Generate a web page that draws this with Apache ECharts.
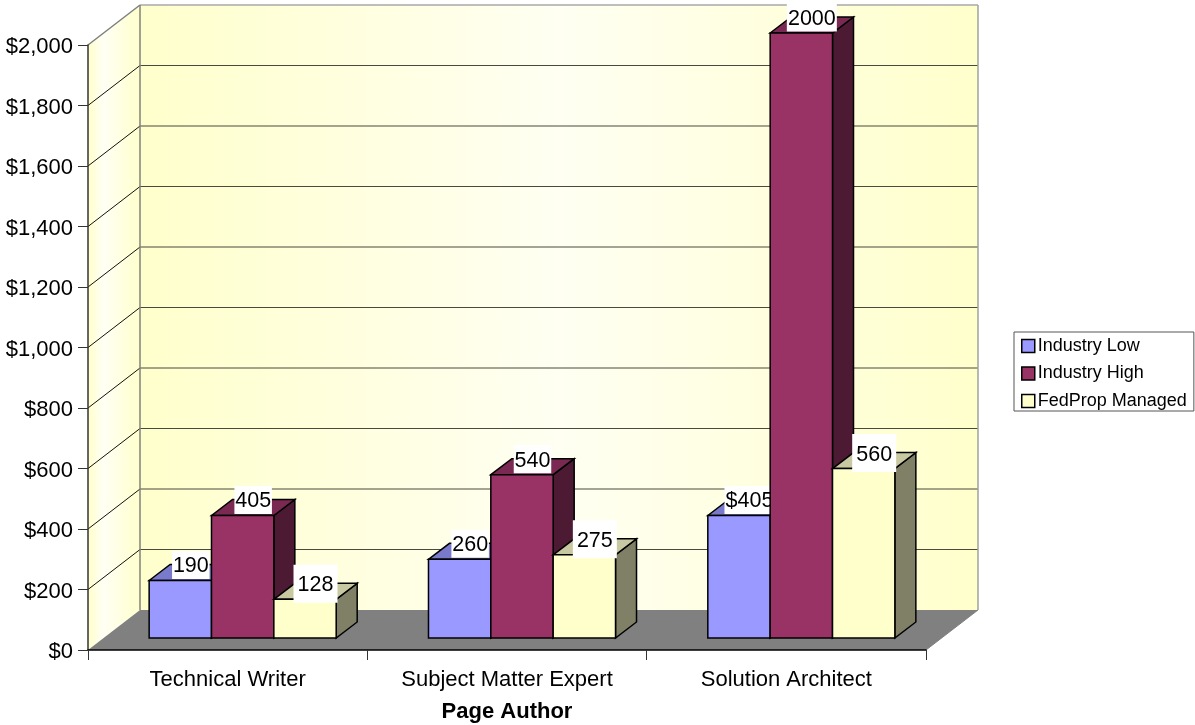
<!DOCTYPE html>
<html>
<head>
<meta charset="utf-8">
<title>Page Author</title>
<script src="https://cdn.jsdelivr.net/npm/echarts@6/dist/echarts.min.js"></script>
<style>
html, body { margin: 0; padding: 0; background: #fff; }
#chart { width: 1195px; height: 725px; }
</style>
</head>
<body>
<div id="chart"></div>
<script>
var categories = ['Technical Writer', 'Subject Matter Expert', 'Solution Architect'];
var yTicks = [0, 200, 400, 600, 800, 1000, 1200, 1400, 1600, 1800, 2000];
var industryLow = [190, 260, 405];
var industryHigh = [405, 540, 2000];
var fedPropManaged = [128, 275, 560];
var lowLabels = ['190', '260', '$405'];
var highLabels = ['405', '540', '2000'];
var fedPropLabels = ['128', '275', '560'];

var FONT = '"Liberation Sans", Arial, sans-serif';
// wall depth and bar depth of the fake 3d
var wallDX = 52, wallDY = 40;
var shiftX = 15, shiftY = 12;
var barDX = 21, barDY = 16;
var barRatio = 0.2232;

var myChart = echarts.init(document.getElementById('chart'));

function poly(points, fill, stroke, lw) {
    return {
        type: 'polygon',
        shape: { points: points },
        style: { fill: fill, stroke: stroke || null, lineWidth: lw || 0 }
    };
}

function line(x1, y1, x2, y2, color, lw) {
    return {
        type: 'line',
        shape: { x1: x1, y1: y1, x2: x2, y2: y2 },
        style: { stroke: color, lineWidth: lw, fill: null }
    };
}

function renderWalls(params, api) {
    if (params.dataIndex !== 0) return null;
    var p0 = api.coord([0, 0]);
    var cw = api.size([1, 0])[0];
    var x0 = p0[0] - cw / 2, x1 = x0 + cw * categories.length;
    var y0 = p0[1], yTop = api.coord([0, yTicks[yTicks.length - 1]])[1];
    var kids = [];
    // side wall
    kids.push(poly([[x0, y0], [x0 + wallDX, y0 - wallDY], [x0 + wallDX, yTop - wallDY], [x0, yTop]], {
        type: 'linear', x: 0, y: 0, x2: 1, y2: 0,
        colorStops: [
            { offset: 0, color: '#ffffcc' },
            { offset: 0.3, color: '#fffff4' },
            { offset: 1, color: '#ffffcc' }
        ]
    }));
    // back wall
    kids.push(poly([[x0 + wallDX, y0 - wallDY], [x1 + wallDX, y0 - wallDY], [x1 + wallDX, yTop - wallDY], [x0 + wallDX, yTop - wallDY]], {
        type: 'linear', x: 0, y: 0, x2: 1, y2: 0,
        colorStops: [
            { offset: 0, color: '#ffffcc' },
            { offset: 0.5, color: '#fffff2' },
            { offset: 1, color: '#ffffcc' }
        ]
    }));
    // floor
    kids.push(poly([[x0, y0], [x1, y0], [x1 + wallDX, y0 - wallDY], [x0 + wallDX, y0 - wallDY]], '#808080'));
    yTicks.forEach(function (t) {
        if (t === 0 || t === yTicks[yTicks.length - 1]) return;
        var y = api.coord([0, t])[1];
        kids.push(line(x0, y, x0 + wallDX, y - wallDY, '#111', 1));
        kids.push(line(x0 + wallDX, y - wallDY, x1 + wallDX, y - wallDY, '#4a4a3c', 1.2));
    });
    // wall outline
    kids.push(line(x0, yTop, x0 + wallDX, yTop - wallDY, '#808080', 1.5));
    kids.push(line(x0 + wallDX, yTop - wallDY, x1 + wallDX, yTop - wallDY, '#a8a8a8', 1.5));
    kids.push(line(x0 + wallDX, yTop - wallDY, x0 + wallDX, y0 - wallDY, '#808080', 1.5));
    kids.push(line(x1 + wallDX, yTop - wallDY, x1 + wallDX, y0 - wallDY, '#a0a0a0', 1.5));
    kids.push(line(x1, y0, x1 + wallDX, y0 - wallDY, '#808080', 1));
    return { type: 'group', children: kids };
}

// slot: 0,1,2 position inside the category
function makeRender(slot, labels, front, top, side, boxH) {
    return function (params, api) {
        var cat = api.value(0);
        var base = api.coord([cat, 0]);
        var head = api.coord([cat, api.value(1)]);
        var w = api.size([1, 0])[0] * barRatio;
        var left = base[0] + shiftX - 1.5 * w + slot * w;
        var right = left + w;
        var bottom = base[1] - shiftY;
        var topY = head[1] - shiftY;
        var kids = [
            poly([[right, topY], [right + barDX, topY - barDY], [right + barDX, bottom - barDY], [right, bottom]], side, '#000', 1.5),
            poly([[left, topY], [left + barDX, topY - barDY], [right + barDX, topY - barDY], [right, topY]], top, '#000', 1.5),
            poly([[left, topY], [right, topY], [right, bottom], [left, bottom]], front, '#000', 1.5)
        ];
        var txt = labels[params.dataIndex];
        var cx = (left + right) / 2 + 10.5;
        var cy = topY - 15.5;
        var boxW = boxH > 30 ? 44 : Math.max(37, txt.length * 12.5);
        kids.push({
            type: 'rect',
            shape: { x: cx - boxW / 2, y: cy - boxH / 2, width: boxW, height: boxH },
            style: { fill: '#fff' }
        });
        kids.push({
            type: 'text',
            style: {
                text: txt, x: cx, y: cy + 1.5, align: 'center', verticalAlign: 'middle',
                fill: '#000', font: '21.5px ' + FONT
            }
        });
        return { type: 'group', children: kids };
    };
}

function pairs(values) {
    return values.map(function (v, i) { return [i, v]; });
}

myChart.setOption({
    animation: false,
    backgroundColor: '#fff',
    grid: { left: 88, right: 269, top: 45, bottom: 75, outerBoundsMode: 'none' },
    legend: {
        show: true,
        orient: 'vertical',
        left: 1014,
        top: 332,
        padding: [5, 7, 1, 7],
        itemGap: 9.5,
        itemWidth: 13,
        itemHeight: 13,
        align: 'left',
        selectedMode: false,
        borderColor: '#555',
        borderWidth: 1,
        backgroundColor: '#fff',
        textStyle: { fontFamily: FONT, fontSize: 18, color: '#000', padding: [0, 0, 0, -2] },
        data: [
            { name: 'Industry Low', icon: 'rect', itemStyle: { color: '#9999ff', borderColor: '#000', borderWidth: 1.5 } },
            { name: 'Industry High', icon: 'rect', itemStyle: { color: '#993366', borderColor: '#000', borderWidth: 1.5 } },
            { name: 'FedProp Managed', icon: 'rect', itemStyle: { color: '#ffffcc', borderColor: '#000', borderWidth: 1.5 } }
        ]
    },
    xAxis: {
        type: 'category',
        data: categories,
        z: 5,
        name: 'Page Author',
        nameLocation: 'middle',
        nameGap: 51,
        nameTextStyle: { fontFamily: FONT, fontSize: 22, fontWeight: 'bold', color: '#000' },
        axisLine: { lineStyle: { color: '#000', width: 1.5 } },
        axisTick: { show: true, interval: 0, length: 10, lineStyle: { color: '#333', width: 1 } },
        axisLabel: { interval: 0, fontFamily: FONT, fontSize: 22, color: '#000', margin: 19 },
        splitLine: { show: false }
    },
    yAxis: {
        type: 'value',
        min: 0,
        max: 2000,
        interval: 200,
        z: 5,
        axisLine: { show: true, lineStyle: { color: '#333', width: 1.5 } },
        axisTick: { show: true, length: 10, lineStyle: { color: '#333', width: 1 } },
        axisLabel: {
            fontFamily: FONT, fontSize: 22, color: '#000', margin: 15,
            verticalAlign: 'top', lineHeight: 4,
            formatter: function (v) { return '$' + String(v).replace(/\B(?=(\d{3})+$)/, ','); }
        },
        splitLine: { show: false }
    },
    series: [
        {
            name: 'walls',
            type: 'custom',
            silent: true,
            renderItem: renderWalls,
            data: yTicks.map(function (t) { return [0, t]; }),
            encode: { x: 0, y: 1 }
        },
        {
            name: 'Industry Low',
            type: 'custom',
            itemStyle: { color: '#9999ff' },
            renderItem: makeRender(0, lowLabels, '#9999ff', '#7a7acc', '#4d4d80', 28),
            data: pairs(industryLow),
            encode: { x: 0, y: 1 }
        },
        {
            name: 'Industry High',
            type: 'custom',
            itemStyle: { color: '#993366' },
            renderItem: makeRender(1, highLabels, '#993366', '#7a2952', '#4d1a33', 28),
            data: pairs(industryHigh),
            encode: { x: 0, y: 1 }
        },
        {
            name: 'FedProp Managed',
            type: 'custom',
            itemStyle: { color: '#ffffcc' },
            renderItem: makeRender(2, fedPropLabels, '#ffffcc', '#c9c9a1', '#808066', 38),
            data: pairs(fedPropManaged),
            encode: { x: 0, y: 1 }
        }
    ]
});
</script>
</body>
</html>
